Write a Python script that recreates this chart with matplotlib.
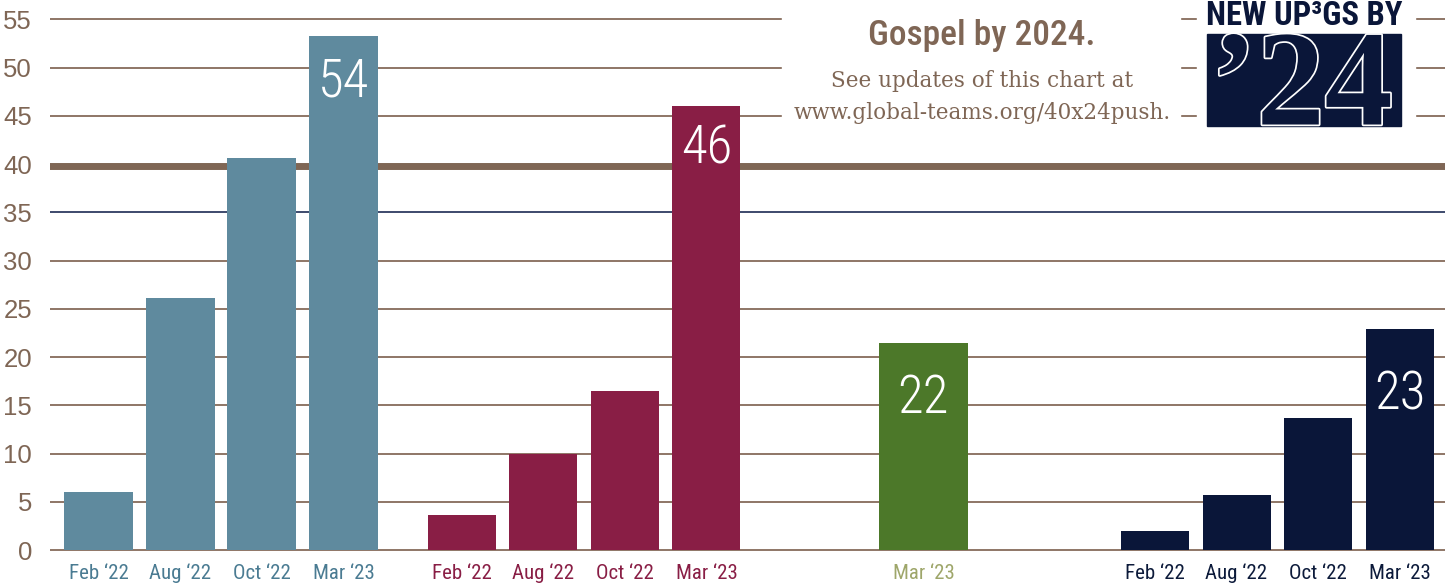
import matplotlib
matplotlib.use("Agg")
import matplotlib.pyplot as plt
import matplotlib.patheffects as pe
from matplotlib import font_manager
from matplotlib.patches import Rectangle

# ---- data ----
months = ["Feb ‘22", "Aug ‘22", "Oct ‘22", "Mar ‘23"]
blue_vals = [6.0, 26.1, 40.6, 53.3]
red_vals = [3.6, 10.0, 16.5, 46.0]
green_months = ["Mar ‘23"]
green_vals = [21.5]
navy_vals = [2.0, 5.7, 13.7, 22.9]
callouts = ["54", "46", "22", "23"]
yticks = list(range(0, 60, 5))
goal = 40

title = "Gospel by 2024."
subtitle = "See updates of this chart at\nwww.global-teams.org/40x24push."
logo_top = "NEW UP³GS BY"
logo_big = "’24"

# ---- colours ----
BROWN = "#7f6655"
GRID = "#8e7666"
C_BLUE, C_RED, C_GREEN, C_NAVY = "#5f8a9e", "#891e45", "#4c7829", "#0a1639"
T_BLUE, T_RED, T_GREEN, T_NAVY = "#4a7b92", "#891e45", "#9ea66a", "#0c1a3a"


def pick(*names):
    have = {f.name for f in font_manager.fontManager.ttflist}
    for n in names:
        if n in have:
            return n
    return "DejaVu Sans"


narrow = pick("Roboto Condensed", "Liberation Sans Narrow", "DejaVu Sans Condensed", "Liberation Sans")
sans = pick("Liberation Sans", "DejaVu Sans")
serif = pick("DejaVu Serif", "Liberation Serif")
bigserif = pick("Liberation Serif", "DejaVu Serif")

fig = plt.figure(figsize=(14.53, 5.83), dpi=100)
ax = fig.add_axes([0.0344, 0.048, 0.9601, 0.952])
# x in pixel-like units so the uneven group spacing is easy to lay out
ax.set_xlim(50, 1445)
ax.set_ylim(-0.5, 57)

step = 81.5
w = 69
starts = [99, 462, 1155]
xb = [starts[0] + i * step for i in range(4)]
xr = [starts[1] + i * step for i in range(4)]
xn = [starts[2] + i * step for i in range(4)]
xg = [923.5]

# gridlines
for y in yticks:
    if y == goal:
        continue
    col = "#3d4a6c" if y == 35 else GRID
    ax.axhline(y, color=col, lw=1.4, zorder=1)
ax.axhline(goal - 0.2, color=BROWN, lw=5.0, zorder=1)

# white panels behind the header text and logo
ax.add_patch(Rectangle((782, 43.4), 398, 20, color="white", zorder=2))
ax.add_patch(Rectangle((1197, 43.4), 218, 20, color="white", zorder=2))

ax.bar(xb, blue_vals, width=w, color=C_BLUE, zorder=3)
ax.bar(xr, red_vals, width=w - 1, color=C_RED, zorder=3)
ax.bar(xg, green_vals, width=89, color=C_GREEN, zorder=3)
ax.bar(xn, navy_vals, width=w - 1, color=C_NAVY, zorder=3)

# callout numbers inside the tallest bars
tops = [(xb[3], blue_vals[3]), (xr[3], red_vals[3]), (xg[0], green_vals[0]), (xn[3], navy_vals[3])]
drops = [46, 43, 56, 66]
for (x, v), s, d in zip(tops, callouts, drops):
    ax.annotate(s, (x, v), xytext=(0, -d * 0.72), textcoords="offset points",
                ha="center", va="center", color="white", fontsize=38, weight="light",
                family=[narrow, "DejaVu Sans"], zorder=4)

# x tick labels coloured per group
xt = xb + xr + xg + xn
labels = months + months + green_months + months
cols = [T_BLUE] * 4 + [T_RED] * 4 + [T_GREEN] + [T_NAVY] * 4
ax.set_xticks(xt)
ax.set_xticklabels(labels, fontsize=15, family=[narrow, "DejaVu Sans"])
for t, c in zip(ax.get_xticklabels(), cols):
    t.set_color(c)
    t.set_verticalalignment("baseline")

ax.set_yticks(yticks)
ax.set_yticklabels([str(v) for v in yticks], fontsize=18.5, color=BROWN, family=[sans, "DejaVu Sans"])
ax.tick_params(axis="both", length=0)
ax.tick_params(axis="y", pad=13)
ax.tick_params(axis="x", pad=17)
for s in ax.spines.values():
    s.set_visible(False)

# header text
ax.text(982, 52.3, title, ha="center", va="baseline", fontsize=25.5, color=BROWN,
        family=[narrow, "DejaVu Sans"], weight="medium", zorder=5)
ax.text(982, 44.7, subtitle, ha="center", va="baseline", fontsize=15.5, color=BROWN,
        family=[serif, "DejaVu Serif"], linespacing=1.55, zorder=5)

# logo
ax.text(1304.5, 54.4, logo_top, ha="center", va="baseline", fontsize=23.5, color=C_NAVY,
        family=[narrow, "DejaVu Sans"], weight="bold", zorder=5, clip_on=False)
ax.add_patch(Rectangle((1207, 43.9), 194, 9.6, color=C_NAVY, zorder=5))
ax.text(1302, 44.1, logo_big, ha="center", va="baseline", fontsize=98, color=C_NAVY,
        family=[bigserif, "DejaVu Serif"], weight="bold", zorder=6,
        path_effects=[pe.withStroke(linewidth=2.5, foreground="white")])

fig.savefig("out.png", dpi=100, facecolor="white")
